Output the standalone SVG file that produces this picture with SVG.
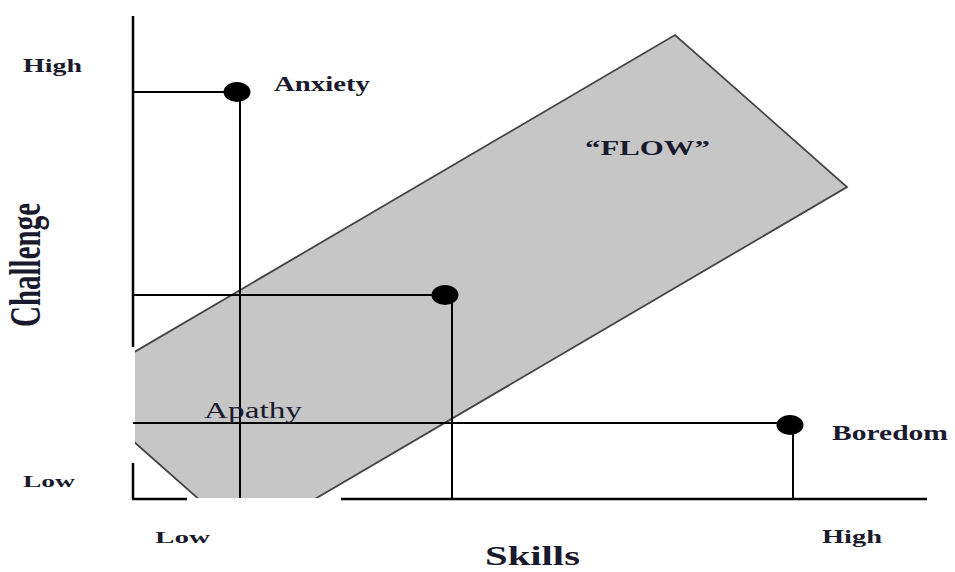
<svg xmlns="http://www.w3.org/2000/svg" width="955" height="572" viewBox="0 0 955 572">
<style>
.ax{stroke:#000;stroke-width:2.5;fill:none}
.ln{stroke:#000;stroke-width:2;fill:none}
.dot{fill:#000}
.lb{font-family:"Liberation Serif","Times New Roman",serif;font-weight:bold;fill:#1a1a2e}
.rg{font-family:"Liberation Serif","Times New Roman",serif;fill:#1a1a2e}
</style>
<defs>
<clipPath id="plot"><rect x="135" y="0" width="820" height="498"/></clipPath>
</defs>
<rect width="955" height="572" fill="#fff"/>
<g id="axes">
<line class="ax" x1="133" y1="16" x2="133" y2="347"/>
<line class="ax" x1="133" y1="463" x2="133" y2="499"/>
<line class="ax" x1="132" y1="499" x2="187" y2="499"/>
<line class="ax" x1="341" y1="499" x2="927" y2="499"/>
</g>
<g id="flow-zone">
<polygon clip-path="url(#plot)" points="73,388 675,35 847,187 245,540" fill="#c6c6c6" stroke="#444" stroke-width="1.8"/>
<text class="lb" x="585" y="155" font-size="21" textLength="125" lengthAdjust="spacingAndGlyphs">“FLOW”</text>
</g>
<g id="connectors">
<line class="ln" x1="133" y1="92" x2="237" y2="92"/>
<line class="ln" x1="240" y1="92" x2="240" y2="498"/>
<line class="ln" x1="133" y1="295" x2="445" y2="295"/>
<line class="ln" x1="452" y1="295" x2="452" y2="498"/>
<line class="ln" x1="133" y1="423" x2="790" y2="423"/>
<line class="ln" x1="793" y1="425" x2="793" y2="498"/>
</g>
<g id="anxiety">
<ellipse class="dot" cx="237" cy="92" rx="13.5" ry="10"/>
<text class="lb" x="274" y="91" font-size="21" textLength="96" lengthAdjust="spacingAndGlyphs">Anxiety</text>
</g>
<g id="flow-point">
<ellipse class="dot" cx="445" cy="295" rx="13.5" ry="10"/>
</g>
<g id="boredom">
<ellipse class="dot" cx="790" cy="425" rx="13.5" ry="10"/>
<text class="lb" x="832" y="440" font-size="21" textLength="116" lengthAdjust="spacingAndGlyphs">Boredom</text>
</g>
<g id="apathy">
<text class="rg" x="204" y="418" font-size="23" textLength="98" lengthAdjust="spacingAndGlyphs">Apathy</text>
</g>
<g id="labels">
<text class="lb" x="23" y="72" font-size="19" textLength="59" lengthAdjust="spacingAndGlyphs">High</text>
<text class="lb" x="23" y="487" font-size="17" textLength="52" lengthAdjust="spacingAndGlyphs">Low</text>
<text class="lb" x="155" y="543" font-size="17" textLength="55" lengthAdjust="spacingAndGlyphs">Low</text>
<text class="lb" x="822" y="543" font-size="19" textLength="60" lengthAdjust="spacingAndGlyphs">High</text>
<text class="lb" x="485" y="565" font-size="27" textLength="95" lengthAdjust="spacingAndGlyphs">Skills</text>
<text class="lb" transform="translate(40,265) rotate(-90) scale(1,1.6)" x="0" y="0" font-size="28" text-anchor="middle" textLength="124" lengthAdjust="spacingAndGlyphs">Challenge</text>
</g>
</svg>
